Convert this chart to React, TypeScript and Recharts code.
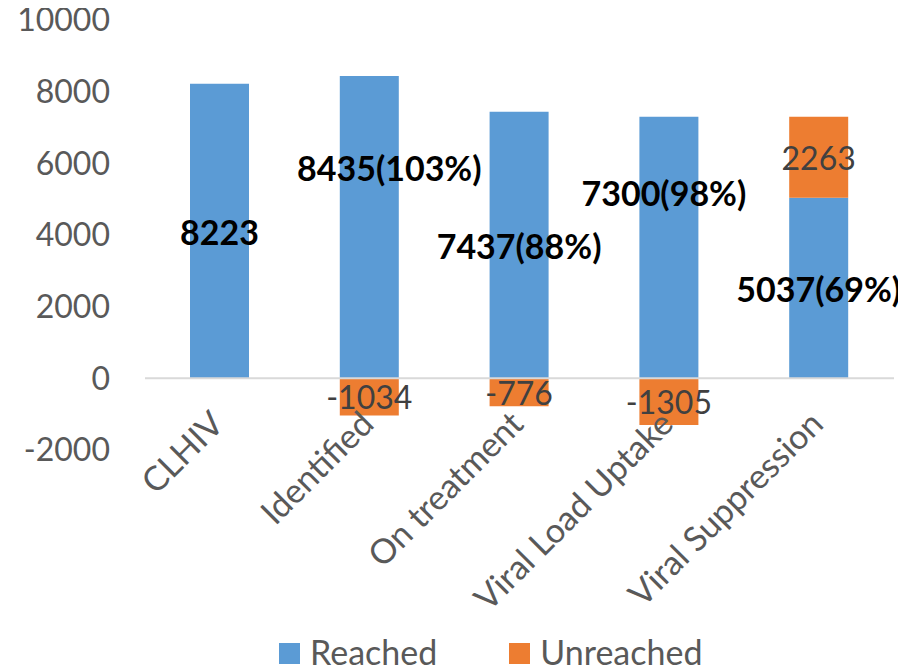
import React from "react";
import {
  BarChart,
  Bar,
  XAxis,
  YAxis,
  Legend,
  ReferenceLine,
  LabelList,
} from "recharts";

const categories = ["CLHIV", "Identified", "On treatment", "Viral Load Uptake", "Viral Suppression"];
const reached = [8223, 8435, 7437, 7300, 5037];
const unreached = [null, -1034, -776, -1305, 2263];
const reachedPct = [null, 103, 88, 98, 69];
const yTicks = [-2000, 0, 2000, 4000, 6000, 8000, 10000];

// hand-placed label nudges, as in the original chart
const labelShift = [
  [0, 0],
  [20, -60],
  [0, 0],
  [-5, -55],
  [0, 0],
];

const BLUE = "#5B9BD5";
const ORANGE = "#ED7D31";
const FONT = "Lato, 'Open Sans', sans-serif";

const data = categories.map((name, i) => ({
  name,
  reached: reached[i],
  unreached: unreached[i],
  reachedLabel:
    reachedPct[i] == null ? `${reached[i]}` : `${reached[i]}(${reachedPct[i]}%)`,
}));

function ReachedLabel(props: any) {
  const { x, y, width, height, index, value } = props;
  const [dx, dy] = labelShift[index] || [0, 0];
  return (
    <text
      x={x + width / 2 + dx}
      y={y + height / 2 + dy}
      textAnchor="middle"
      dominantBaseline="central"
      fontFamily={FONT}
      fontWeight={700}
      fontSize={34}
      fill="#000000"
    >
      {value}
    </text>
  );
}

function UnreachedLabel(props: any) {
  const { x, y, width, height, value } = props;
  if (value == null) return null;
  return (
    <text
      x={x + width / 2}
      y={y + height / 2}
      textAnchor="middle"
      dominantBaseline="central"
      fontFamily={FONT}
      fontSize={32}
      fill="#404040"
    >
      {value}
    </text>
  );
}

function CategoryTick(props: any) {
  const { x, y, payload } = props;
  const ax = x + 6;
  const ay = y - 26;
  return (
    <text
      x={ax}
      y={ay}
      textAnchor="end"
      transform={`rotate(-45, ${ax}, ${ay})`}
      fontFamily={FONT}
      fontSize={34}
      fill="#595959"
    >
      {payload.value}
    </text>
  );
}

function LegendContent() {
  const items = [
    { label: "Reached", color: BLUE },
    { label: "Unreached", color: ORANGE },
  ];
  return (
    <div
      style={{
        display: "flex",
        alignItems: "flex-end",
        height: 48,
        paddingLeft: 271,
        boxSizing: "border-box",
      }}
    >
      {items.map((it, i) => (
        <div
          key={it.label}
          style={{
            display: "flex",
            alignItems: "flex-end",
            marginLeft: i === 0 ? 0 : 72,
          }}
        >
          <span
            style={{
              width: 21,
              height: 21,
              background: it.color,
              display: "inline-block",
              marginBottom: 8,
            }}
          />
          <span
            style={{
              fontFamily: FONT,
              fontSize: 34,
              lineHeight: "41px",
              color: "#595959",
              marginLeft: 10,
            }}
          >
            {it.label}
          </span>
        </div>
      ))}
    </div>
  );
}

export default function App() {
  return (
    <div style={{ marginTop: -8 }}>
      <BarChart
        width={898}
        height={672}
        data={data}
        stackOffset="sign"
        barSize={59}
        margin={{ top: 20, right: 12, bottom: 0, left: 0 }}
      >
        <YAxis
          domain={[-2000, 10000]}
          ticks={yTicks}
          width={137}
          axisLine={false}
          tickLine={false}
          tickSize={0}
          tickMargin={35}
          tick={{ fontFamily: FONT, fontSize: 32, fill: "#595959" }}
          interval={0}
        />
        <XAxis
          dataKey="name"
          height={174}
          axisLine={false}
          tickLine={false}
          tickSize={0}
          interval={0}
          tick={<CategoryTick />}
        />
        <ReferenceLine y={0} stroke="#D9D9D9" strokeWidth={2} />
        <Bar dataKey="reached" stackId="a" fill={BLUE} isAnimationActive={false}>
          <LabelList dataKey="reachedLabel" content={<ReachedLabel />} />
        </Bar>
        <Bar dataKey="unreached" stackId="a" fill={ORANGE} isAnimationActive={false}>
          <LabelList dataKey="unreached" content={<UnreachedLabel />} />
        </Bar>
        <Legend verticalAlign="bottom" height={48} content={<LegendContent />} />
      </BarChart>
    </div>
  );
}
